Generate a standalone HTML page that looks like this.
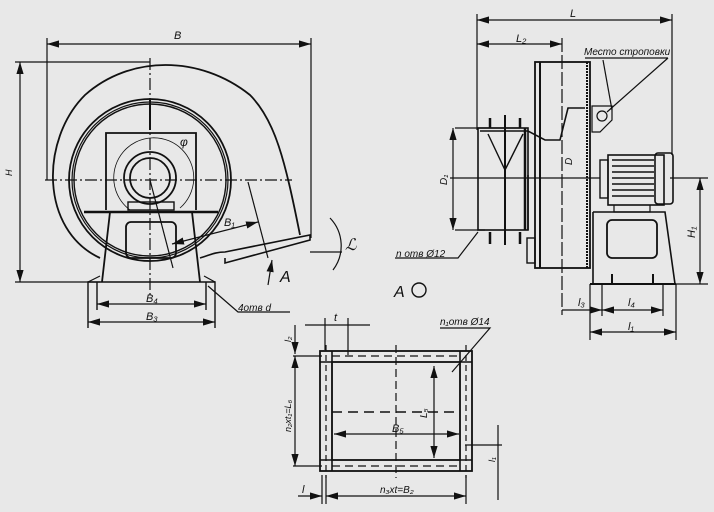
<!DOCTYPE html>
<html><head><meta charset="utf-8"><style>
html,body{margin:0;padding:0;background:#e8e8e8}
svg{display:block}
text{font-family:"Liberation Sans",sans-serif;font-style:italic;fill:#111}
</style></head><body>
<svg width="714" height="512" viewBox="0 0 714 512" xmlns="http://www.w3.org/2000/svg">
<defs><marker id="a" viewBox="0 0 10 6" refX="10" refY="3" markerWidth="10" markerHeight="6" orient="auto-start-reverse"><path d="M0,0L10,3L0,6z" fill="#111"/></marker></defs>
<g fill="none" stroke="#111" stroke-width="1.2">
<!-- LEFT VIEW -->
<line x1="47" y1="38" x2="47" y2="180"/><line x1="311" y1="38" x2="311" y2="238"/>
<line x1="47" y1="44" x2="311" y2="44" marker-start="url(#a)" marker-end="url(#a)"/>
<line x1="15" y1="62" x2="150" y2="62"/><line x1="15" y1="282" x2="100" y2="282"/>
<line x1="20" y1="62" x2="20" y2="282" marker-start="url(#a)" marker-end="url(#a)"/>
<path d="M100,258 C40,230 40,140 85,95 C130,55 200,55 250,95 C275,120 285,160 300,235" stroke-width="1.8"/>
<circle cx="150" cy="180" r="81" stroke-width="1.8"/><circle cx="150" cy="180" r="78"/><circle cx="150" cy="180" r="76" stroke-width="1.4"/>
<line x1="150" y1="58" x2="150" y2="295" stroke-dasharray="12,3,2,3"/>
<line x1="45" y1="180" x2="292" y2="180" stroke-dasharray="12,3,2,3"/>
<path d="M106,210 L106,133 L196,133 L196,210" stroke-width="1.8"/>
<line x1="150" y1="100" x2="150" y2="130" stroke-width="2"/>
<path d="M130,210 A40,40 0 1,1 180,208" stroke-width="0.8"/>
<circle cx="150" cy="178" r="26" stroke-width="1.8"/><circle cx="150" cy="178" r="20" stroke-width="1.8"/>
<rect x="128" y="202" width="46" height="8" stroke-width="1.4"/>
<line x1="84" y1="212" x2="218" y2="212" stroke-width="2.5"/>
<path d="M110,212 L102,282 M192,212 L200,282" stroke-width="1.8"/>
<rect x="126" y="222" width="50" height="36" rx="5" stroke-width="1.8"/>
<line x1="150" y1="180" x2="173" y2="268"/>
<path d="M88,290 L88,282 L215,282 L215,290 M88,282 L88,328 M215,282 L215,328 M97,282 L97,310 M206,282 L206,310" stroke-width="1.4"/>
<path d="M88,282 L100,276 M215,282 L204,276" />
<line x1="97" y1="304" x2="206" y2="304" marker-start="url(#a)" marker-end="url(#a)"/>
<line x1="88" y1="322" x2="215" y2="322" marker-start="url(#a)" marker-end="url(#a)"/>
<path d="M208,286 L238,312 L290,312"/>
<path d="M200,258 C210,255 215,252 225,252 L310,235 L310,240 L225,263 L225,258" stroke-width="1.6"/>
<line x1="248" y1="182" x2="268" y2="258"/>
<line x1="172" y1="244" x2="258" y2="222" marker-start="url(#a)" marker-end="url(#a)"/>
<line x1="268" y1="285" x2="272" y2="260" marker-end="url(#a)"/>
<path d="M330,218 A40,40 0 0,1 333,270"/>
<line x1="310" y1="252" x2="342" y2="252"/>
<!-- RIGHT VIEW -->
<line x1="477" y1="14" x2="477" y2="130"/><line x1="672" y1="14" x2="672" y2="155"/>
<line x1="477" y1="20" x2="672" y2="20" marker-start="url(#a)" marker-end="url(#a)"/>
<line x1="477" y1="44" x2="562" y2="44" marker-start="url(#a)" marker-end="url(#a)"/>
<line x1="562" y1="38" x2="562" y2="315" stroke-dasharray="14,3"/>
<rect x="535" y="62" width="55" height="206" stroke-width="1.8"/>
<line x1="587" y1="62" x2="587" y2="268" stroke-width="2" stroke-dasharray="2,1"/>
<line x1="540" y1="62" x2="540" y2="268" stroke-width="2"/>
<path d="M528,230 L528,175 M480,131 L528,131 L545,140 L560,140 L568,108 L585,108" stroke-width="1.6"/>
<rect x="527" y="238" width="8" height="25" stroke-width="1.4"/>
<line x1="455" y1="128" x2="520" y2="128"/><line x1="455" y1="230" x2="485" y2="230"/>
<line x1="453" y1="128" x2="453" y2="230" marker-start="url(#a)" marker-end="url(#a)"/>
<rect x="478" y="128" width="50" height="102" stroke-width="1.6"/>
<line x1="450" y1="178" x2="600" y2="178"/>
<path d="M488,134 L505,170 L523,134" stroke-width="1.4"/>
<line x1="505" y1="115" x2="505" y2="245" stroke-width="2"/>
<path d="M490,118 L490,128 M520,118 L520,128 M490,232 L490,244 M520,232 L520,244" stroke-width="2.5"/>
<line x1="525" y1="128" x2="525" y2="230" stroke-width="2.5"/>
<circle cx="602" cy="116" r="5"/><path d="M592,106 L612,106 L612,120 L600,132 L592,132z"/>
<path d="M603,60 L612,110"/><path d="M607,112 L668,58 M585,58 L668,58"/>
<rect x="608" y="155" width="56" height="50" stroke-width="1.6"/>
<g stroke-width="1.4"><line x1="612" y1="160" x2="654" y2="160"/><line x1="612" y1="166" x2="654" y2="166"/><line x1="612" y1="172" x2="654" y2="172"/><line x1="612" y1="178" x2="654" y2="178"/><line x1="612" y1="184" x2="654" y2="184"/><line x1="612" y1="190" x2="654" y2="190"/><line x1="612" y1="196" x2="654" y2="196"/></g>
<rect x="655" y="153" width="18" height="51" rx="3" stroke-width="1.6"/>
<rect x="600" y="160" width="8" height="38" stroke-width="1.4"/>
<path d="M614,205 L614,212 L650,212 L650,205"/>
<path d="M593,212 L665,212 L675,284 M593,212 L593,284" stroke-width="1.6"/>
<rect x="607" y="220" width="50" height="38" rx="5" stroke-width="1.8"/>
<line x1="590" y1="284" x2="676" y2="284" stroke-width="2"/>
<path d="M612,274 L612,284 M653,274 L653,284" stroke-width="2"/>
<line x1="670" y1="178" x2="708" y2="178"/><line x1="676" y1="284" x2="708" y2="284"/>
<line x1="700" y1="178" x2="700" y2="284" marker-start="url(#a)" marker-end="url(#a)"/>
<path d="M590,284 L590,340 M602,284 L602,316 M663,284 L663,316 M676,284 L676,340"/>
<line x1="562" y1="310" x2="602" y2="310" marker-end="url(#a)"/>
<line x1="602" y1="310" x2="663" y2="310" marker-start="url(#a)" marker-end="url(#a)"/>
<line x1="590" y1="332" x2="676" y2="332" marker-start="url(#a)" marker-end="url(#a)"/>
<path d="M478,232 L458,258 L395,258"/>
<circle cx="419" cy="290" r="7" stroke-width="1.4"/>
<!-- BOTTOM FLANGE -->
<rect x="320" y="351" width="152" height="120" stroke-width="1.8"/>
<rect x="332" y="362" width="128" height="98" stroke-width="1.6"/>
<line x1="332" y1="351" x2="332" y2="471" stroke-width="1.6"/><line x1="460" y1="351" x2="460" y2="471" stroke-width="1.6"/>
<line x1="320" y1="362" x2="472" y2="362" stroke-width="1.6"/><line x1="320" y1="460" x2="472" y2="460" stroke-width="1.6"/>
<line x1="332" y1="412" x2="460" y2="412" stroke-width="1.6" stroke-dasharray="10,6"/>
<line x1="396" y1="345" x2="396" y2="478" stroke-dasharray="8,4"/>
<line x1="326" y1="345" x2="326" y2="478" stroke-dasharray="6,4"/><line x1="466" y1="345" x2="466" y2="478" stroke-dasharray="6,4"/>
<line x1="332" y1="356" x2="460" y2="356" stroke-dasharray="8,5"/><line x1="332" y1="466" x2="460" y2="466" stroke-dasharray="8,5"/>
<line x1="334" y1="434" x2="459" y2="434" marker-start="url(#a)" marker-end="url(#a)"/>
<line x1="434" y1="366" x2="434" y2="458" marker-start="url(#a)" marker-end="url(#a)"/>
<line x1="305" y1="325" x2="370" y2="325"/><line x1="325" y1="318" x2="325" y2="350"/><line x1="348" y1="318" x2="348" y2="355"/>
<line x1="293" y1="356" x2="322" y2="356"/><line x1="293" y1="466" x2="322" y2="466"/>
<line x1="295" y1="356" x2="295" y2="466" marker-start="url(#a)" marker-end="url(#a)"/>
<line x1="295" y1="325" x2="295" y2="354" marker-end="url(#a)"/>
<line x1="465" y1="445" x2="502" y2="445"/>
<line x1="498" y1="425" x2="498" y2="500" />
<line x1="322" y1="475" x2="322" y2="504"/><line x1="326" y1="475" x2="326" y2="504"/><line x1="466" y1="475" x2="466" y2="504"/>
<line x1="298" y1="496" x2="322" y2="496" marker-end="url(#a)"/>
<line x1="326" y1="496" x2="466" y2="496" marker-start="url(#a)" marker-end="url(#a)"/>
<path d="M452,372 L490,328 L440,328"/>
</g>
<g font-size="11">
<text x="174" y="39">B</text>
<text x="12" y="176" transform="rotate(-90 12 176)" font-size="9">H</text>
<text x="180" y="146" font-size="12">φ</text>
<text x="224" y="226">B₁</text>
<text x="280" y="282" font-size="16" font-style="normal">A</text>
<text x="345" y="250" font-size="16">ℒ</text>
<text x="146" y="302">B₄</text>
<text x="146" y="320">B₃</text>
<text x="238" y="311" font-size="10">4отв d</text>
<text x="570" y="17">L</text>
<text x="516" y="42">L₂</text>
<text x="584" y="55" font-style="normal" font-size="10">Место строповки</text>
<text x="447" y="185" font-size="10" transform="rotate(-90 447 185)">D₁</text>
<text x="572" y="165" font-size="10" transform="rotate(-90 572 165)">D</text>
<text x="695" y="238" transform="rotate(-90 695 238)">H₁</text>
<text x="396" y="257" font-size="10">n отв Ø12</text>
<text x="394" y="297" font-size="16">A</text>
<text x="578" y="306">l₃</text>
<text x="628" y="306">l₄</text>
<text x="628" y="330">l₁</text>
<text x="440" y="325" font-size="10">n₁отв Ø14</text>
<text x="334" y="321">t</text>
<text x="291" y="342" font-size="9" transform="rotate(-90 291 342)">l₂</text>
<text x="291" y="432" font-size="9" transform="rotate(-90 291 432)">n₂xt₁=L₆</text>
<text x="427" y="418" font-size="10" transform="rotate(-90 427 418)">L₅</text>
<text x="392" y="432">B₅</text>
<text x="495" y="462" font-size="9" transform="rotate(-90 495 462)">l₁</text>
<text x="302" y="493">l</text>
<text x="380" y="493" font-size="10">n₃xt=B₂</text>
</g>
</svg>
</body></html>
